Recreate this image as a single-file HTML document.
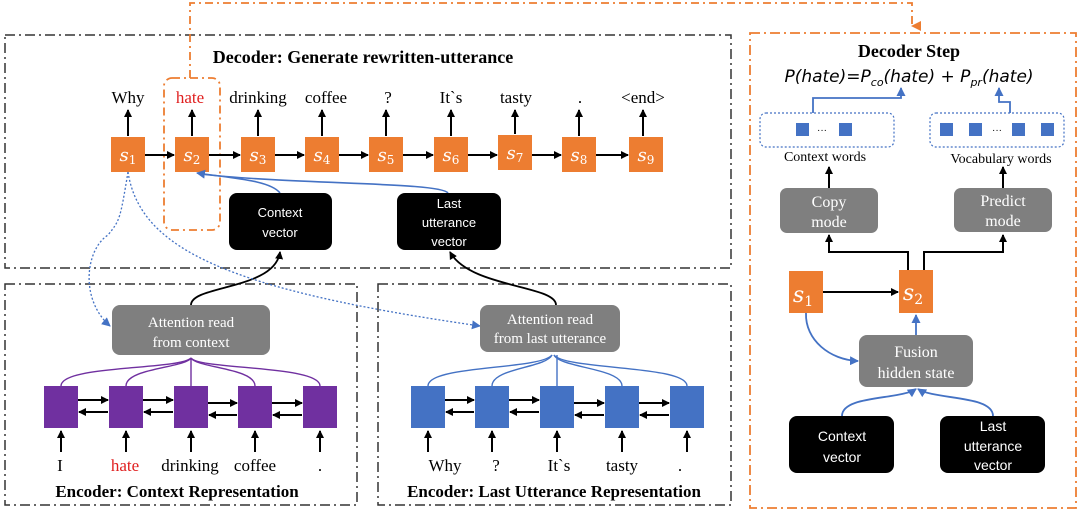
<!DOCTYPE html>
<html><head><meta charset="utf-8"><style>
html,body{margin:0;padding:0;background:#fff;}
svg{display:block;}
.t{font-family:"Liberation Serif",serif;}
.s{font-family:"Liberation Sans",sans-serif;}
</style></head><body>
<svg width="1080" height="510" viewBox="0 0 1080 510" xmlns="http://www.w3.org/2000/svg">
<defs>
<marker id="ak" markerWidth="8" markerHeight="8" refX="7" refY="4" orient="auto" markerUnits="userSpaceOnUse"><path d="M0,0 L8,4 L0,8 z" fill="#000"/></marker>
<marker id="ab" markerWidth="9" markerHeight="9" refX="8" refY="4.5" orient="auto" markerUnits="userSpaceOnUse"><path d="M0,0 L9,4.5 L0,9 z" fill="#4472c4"/></marker>
<marker id="ao" markerWidth="10" markerHeight="10" refX="5" refY="9" orient="auto" markerUnits="userSpaceOnUse"><path d="M0,0 L10,0 L5,10 z" fill="#ed7d31"/></marker>
</defs>
<rect width="1080" height="510" fill="#fff"/>
<g fill="none" stroke="#333" stroke-width="1.5" stroke-dasharray="10,4,2,4">
<rect x="5" y="35" width="726" height="233"/>
<rect x="5" y="284" width="352" height="221"/>
<rect x="378" y="284" width="353" height="221"/>
</g>
<rect x="750" y="33" width="326" height="475" fill="none" stroke="#ed7d31" stroke-width="1.8" stroke-dasharray="10,4,2,4"/>
<rect x="164" y="78" width="56" height="152" rx="8" fill="none" stroke="#ed7d31" stroke-width="1.8" stroke-dasharray="8,4,2,4"/>
<path d="M190,78 V3 H912 V26" fill="none" stroke="#ed7d31" stroke-width="1.8" stroke-dasharray="8,4,2,4" marker-end="url(#ao)"/>

<text x="363" y="63" text-anchor="middle" class="t" font-size="18" font-weight="bold">Decoder:  Generate rewritten-utterance</text>

<g class="t" font-size="17" text-anchor="middle">
<text x="128" y="103">Why</text><text x="190" y="103" fill="#e02020">hate</text><text x="258" y="103">drinking</text><text x="326" y="103">coffee</text><text x="388" y="103">?</text><text x="451" y="103">It`s</text><text x="516" y="103">tasty</text><text x="580" y="103">.</text><text x="643" y="103">&lt;end&gt;</text>
</g>
<g stroke="#000" stroke-width="2" marker-end="url(#ak)">
<line x1="128" y1="136" x2="128" y2="110"/><line x1="192" y1="136" x2="192" y2="110"/><line x1="258" y1="136" x2="258" y2="110"/><line x1="322" y1="136" x2="322" y2="110"/><line x1="386" y1="136" x2="386" y2="110"/><line x1="451" y1="136" x2="451" y2="110"/><line x1="515" y1="134" x2="515" y2="110"/><line x1="579" y1="136" x2="579" y2="110"/><line x1="643" y1="136" x2="643" y2="110"/>
<line x1="145" y1="155" x2="174" y2="155"/><line x1="209" y1="155" x2="240" y2="155"/><line x1="275" y1="155" x2="304" y2="155"/><line x1="339" y1="155" x2="368" y2="155"/><line x1="403" y1="155" x2="433" y2="155"/><line x1="468" y1="155" x2="497" y2="155"/><line x1="532" y1="155" x2="561" y2="155"/><line x1="596" y1="155" x2="628" y2="155"/>
</g>
<g fill="#ed7d31">
<rect x="111" y="137" width="34" height="35"/><rect x="175" y="137" width="34" height="35"/><rect x="241" y="137" width="34" height="35"/><rect x="305" y="137" width="34" height="35"/><rect x="369" y="137" width="34" height="35"/><rect x="434" y="137" width="34" height="35"/><rect x="498" y="135" width="34" height="35"/><rect x="562" y="137" width="34" height="35"/><rect x="629" y="137" width="34" height="35"/>
</g>
<g fill="#fff" font-family="'DejaVu Serif',serif" font-style="italic" font-size="18" text-anchor="middle">
<text x="128" y="161">s<tspan font-size="12" dy="3" font-style="normal">1</tspan></text>
<text x="192" y="161">s<tspan font-size="12" dy="3" font-style="normal">2</tspan></text>
<text x="258" y="161">s<tspan font-size="12" dy="3" font-style="normal">3</tspan></text>
<text x="322" y="161">s<tspan font-size="12" dy="3" font-style="normal">4</tspan></text>
<text x="386" y="161">s<tspan font-size="12" dy="3" font-style="normal">5</tspan></text>
<text x="451" y="161">s<tspan font-size="12" dy="3" font-style="normal">6</tspan></text>
<text x="515" y="159">s<tspan font-size="12" dy="3" font-style="normal">7</tspan></text>
<text x="579" y="161">s<tspan font-size="12" dy="3" font-style="normal">8</tspan></text>
<text x="646" y="161">s<tspan font-size="12" dy="3" font-style="normal">9</tspan></text>
</g>
<g fill="none" stroke="#4472c4" stroke-width="1.6">
<path d="M280,193 C270,180 230,178 197,173" marker-end="url(#ab)"/>
<path d="M448,193 C440,182 300,185 200,174"/>
</g>
<rect x="229" y="193" width="103" height="57" rx="8" fill="#000"/>
<rect x="397" y="193" width="104" height="57" rx="8" fill="#000"/>
<g class="s" fill="#fff" font-size="13" text-anchor="middle">
<text x="280" y="217">Context</text><text x="280" y="237">vector</text>
<text x="449" y="208">Last</text><text x="449" y="227">utterance</text><text x="449" y="246">vector</text>
</g>
<g fill="none" stroke="#000" stroke-width="1.8">
<path d="M191,305 C191,285 275,290 280,252" marker-end="url(#ak)"/>
<path d="M556,305 C556,285 470,288 450,252" marker-end="url(#ak)"/>
</g>
<g fill="none" stroke="#4472c4" stroke-width="1.3" stroke-dasharray="2,2">
<path d="M128,172 C120,220 120,220 108,235 C85,250 80,300 110,326" marker-end="url(#ab)"/>
<path d="M128,172 C140,250 230,290 480,326" marker-end="url(#ab)"/>
</g>
<rect x="112" y="305" width="158" height="50" rx="8" fill="#7f7f7f"/>
<rect x="480" y="305" width="140" height="47" rx="8" fill="#7f7f7f"/>
<g class="t" fill="#fff" font-size="15" text-anchor="middle">
<text x="191" y="327">Attention read</text><text x="191" y="347">from context</text>
<text x="550" y="324">Attention read</text><text x="550" y="343">from last utterance</text>
</g>
<g fill="none" stroke="#7030a0" stroke-width="1.4">
<path d="M61,386 C61,365 180,370 191,358"/><path d="M126,386 C126,368 185,368 191,358"/><path d="M191,386 V358"/><path d="M255,386 C255,368 197,368 191,358"/><path d="M320,386 C320,365 200,370 191,358"/>
</g>
<g fill="none" stroke="#4472c4" stroke-width="1.4">
<path d="M428,386 C428,365 540,370 552,355"/><path d="M492,386 C492,368 546,368 552,355"/><path d="M557,386 V355"/><path d="M622,386 C622,368 560,368 554,355"/><path d="M687,386 C687,365 565,370 554,355"/>
</g>
<g fill="#7030a0"><rect x="44" y="386" width="34" height="42"/><rect x="109" y="386" width="34" height="42"/><rect x="174" y="386" width="34" height="42"/><rect x="238" y="386" width="34" height="42"/><rect x="303" y="386" width="34" height="42"/></g>
<g fill="#4472c4"><rect x="411" y="386" width="34" height="42"/><rect x="475" y="386" width="34" height="42"/><rect x="540" y="386" width="34" height="42"/><rect x="605" y="386" width="34" height="42"/><rect x="670" y="386" width="34" height="42"/></g>
<g stroke="#000" stroke-width="2" marker-end="url(#ak)">
<line x1="78" y1="400" x2="108" y2="400"/><line x1="108" y1="412" x2="79" y2="412"/>
<line x1="143" y1="400" x2="173" y2="400"/><line x1="173" y1="412" x2="144" y2="412"/>
<line x1="208" y1="403" x2="237" y2="403"/><line x1="237" y1="415" x2="209" y2="415"/>
<line x1="272" y1="403" x2="302" y2="403"/><line x1="302" y1="415" x2="273" y2="415"/>
<line x1="445" y1="400" x2="474" y2="400"/><line x1="474" y1="412" x2="446" y2="412"/>
<line x1="509" y1="400" x2="539" y2="400"/><line x1="539" y1="412" x2="510" y2="412"/>
<line x1="574" y1="403" x2="604" y2="403"/><line x1="604" y1="415" x2="575" y2="415"/>
<line x1="639" y1="403" x2="669" y2="403"/><line x1="669" y1="415" x2="640" y2="415"/>
<line x1="61" y1="452" x2="61" y2="431"/><line x1="126" y1="452" x2="126" y2="431"/><line x1="191" y1="452" x2="191" y2="431"/><line x1="255" y1="452" x2="255" y2="431"/><line x1="320" y1="452" x2="320" y2="431"/>
<line x1="428" y1="452" x2="428" y2="431"/><line x1="492" y1="452" x2="492" y2="431"/><line x1="557" y1="452" x2="557" y2="431"/><line x1="622" y1="452" x2="622" y2="431"/><line x1="687" y1="452" x2="687" y2="431"/>
</g>
<g class="t" font-size="17" text-anchor="middle">
<text x="60" y="471">I</text><text x="125" y="471" fill="#e02020">hate</text><text x="190" y="471">drinking</text><text x="255" y="471">coffee</text><text x="320" y="471">.</text>
<text x="445" y="471">Why</text><text x="496" y="471">?</text><text x="559" y="471">It`s</text><text x="622" y="471">tasty</text><text x="680" y="471">.</text>
</g>
<g class="t" font-size="17" font-weight="bold" text-anchor="middle">
<text x="177" y="497">Encoder: Context Representation</text>
<text x="554" y="497">Encoder: Last Utterance Representation</text>
</g>

<text x="909" y="57" text-anchor="middle" class="t" font-size="18" font-weight="bold">Decoder Step</text>
<text x="909" y="82" text-anchor="middle" font-family="'DejaVu Sans',sans-serif" font-style="italic" font-size="17">P(hate)=P<tspan font-size="11" dy="4">co</tspan><tspan dy="-4">(hate) + P</tspan><tspan font-size="11" dy="4">pr</tspan><tspan dy="-4">(hate)</tspan></text>
<g fill="none" stroke="#4472c4" stroke-width="1.8">
<path d="M813,113 V98 H901 V88" marker-end="url(#ab)"/>
<path d="M1010,113 V102 H999 V88" marker-end="url(#ab)"/>
</g>
<g fill="none" stroke="#4472c4" stroke-width="1.2" stroke-dasharray="2,2">
<rect x="760" y="113" width="134" height="34" rx="6"/>
<rect x="930" y="113" width="134" height="34" rx="6"/>
</g>
<g fill="#4472c4">
<rect x="796" y="123" width="13" height="13"/><rect x="839" y="123" width="13" height="13"/>
<rect x="940" y="123" width="13" height="13"/><rect x="969" y="123" width="13" height="13"/><rect x="1012" y="123" width="13" height="13"/><rect x="1041" y="123" width="13" height="13"/>
</g>
<text x="822" y="133" text-anchor="middle" font-size="10" class="s">···</text>
<text x="997" y="133" text-anchor="middle" font-size="10" class="s">···</text>
<text x="825" y="161" text-anchor="middle" class="t" font-size="14">Context words</text>
<text x="1001" y="163" text-anchor="middle" class="t" font-size="14">Vocabulary words</text>
<g stroke="#000" stroke-width="2" fill="none" marker-end="url(#ak)">
<line x1="829" y1="188" x2="829" y2="167"/><line x1="1003" y1="188" x2="1003" y2="167"/>
<path d="M908,270 V252 H829 V235"/><path d="M924,270 V252 H1003 V235"/>
<line x1="823" y1="292" x2="898" y2="292"/>
</g>
<rect x="780" y="188" width="98" height="45" rx="7" fill="#7f7f7f"/>
<rect x="954" y="188" width="98" height="44" rx="7" fill="#7f7f7f"/>
<g class="t" fill="#fff" font-size="16" text-anchor="middle">
<text x="829" y="207">Copy</text><text x="829" y="227">mode</text>
<text x="1003" y="206">Predict</text><text x="1003" y="226">mode</text>
</g>
<rect x="789" y="271" width="34" height="42" fill="#ed7d31"/>
<rect x="899" y="270" width="34" height="43" fill="#ed7d31"/>
<g fill="#fff" font-family="'DejaVu Serif',serif" font-style="italic" font-size="22" text-anchor="middle">
<text x="803" y="302">s<tspan font-size="14" dy="4" font-style="normal">1</tspan></text>
<text x="913" y="300">s<tspan font-size="14" dy="4" font-style="normal">2</tspan></text>
</g>
<g fill="none" stroke="#4472c4" stroke-width="1.8">
<path d="M806,313 C805,340 830,360 858,361" marker-end="url(#ab)"/>
<line x1="916" y1="335" x2="916" y2="315" marker-end="url(#ab)"/>
<path d="M842,416 C842,395 900,400 916,389" marker-end="url(#ab)"/>
<path d="M993,416 C993,395 935,400 918,389" marker-end="url(#ab)"/>
</g>
<rect x="859" y="335" width="114" height="52" rx="8" fill="#7f7f7f"/>
<g class="t" fill="#fff" font-size="16" text-anchor="middle">
<text x="916" y="357">Fusion</text><text x="916" y="378">hidden state</text>
</g>
<rect x="789" y="416" width="105" height="57" rx="8" fill="#000"/>
<rect x="940" y="416" width="105" height="57" rx="8" fill="#000"/>
<g class="s" fill="#fff" font-size="14" text-anchor="middle">
<text x="842" y="441">Context</text><text x="842" y="462">vector</text>
<text x="993" y="431">Last</text><text x="993" y="451">utterance</text><text x="993" y="470">vector</text>
</g>
</svg>
</body></html>
